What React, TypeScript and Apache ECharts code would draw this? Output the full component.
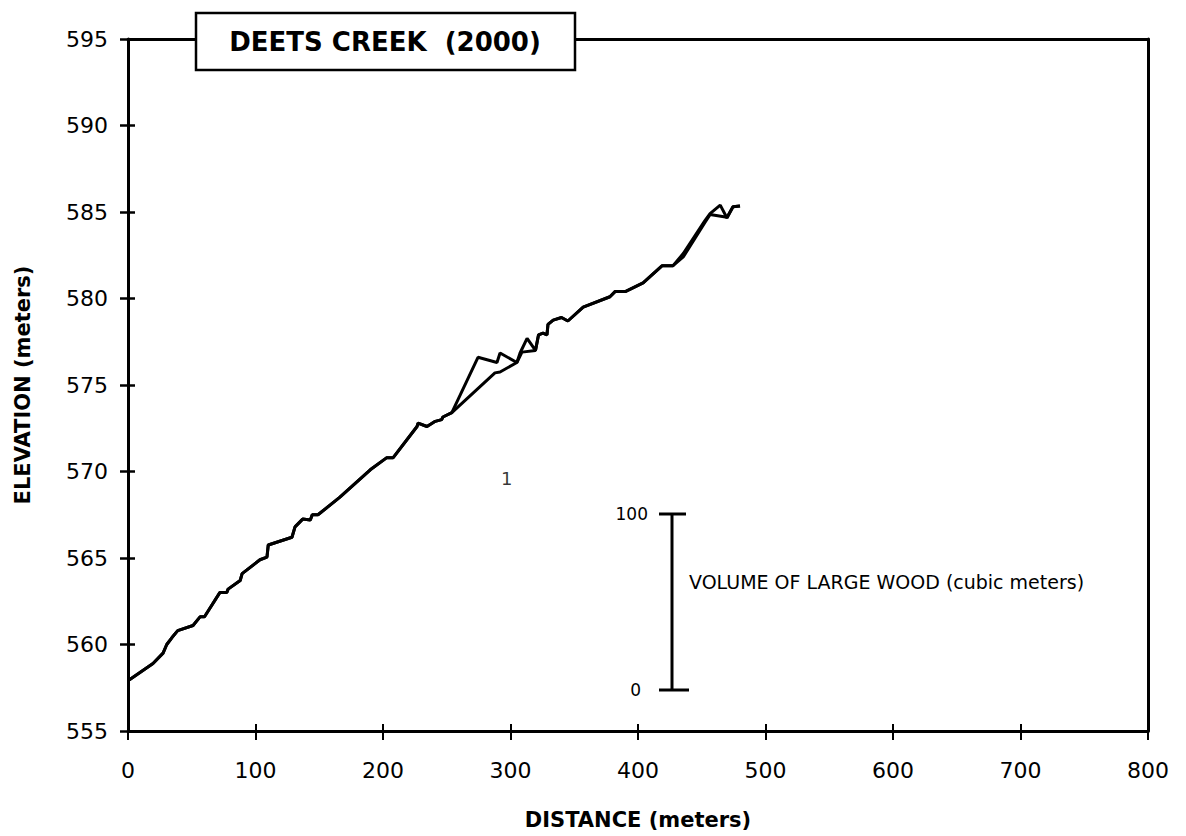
import React, { useEffect, useRef } from "react";
import * as echarts from "echarts";

// Longitudinal profile, Deets Creek (2000)
const distA = [0, 19.6, 27.5, 30.4, 34.5, 39, 51, 56.5, 60, 72, 77.5, 78.5, 88, 89.5, 103.5, 109, 110, 128.6, 131, 137, 143, 144.5, 149, 166, 190, 203, 208, 226.7, 227.5, 234.5, 241, 246, 247, 254, 274.5, 289.4, 291.8, 305, 307.5, 313, 319.6, 322, 325.5, 328.6, 329.4, 333.5, 340, 345, 357, 378, 382, 390, 404, 419, 427.5, 435.5, 452.5, 456.5, 464.5, 469.8, 474.5, 480];
const elevA = [557.9, 558.9, 559.5, 560.0, 560.4, 560.8, 561.1, 561.6, 561.6, 563.0, 563.0, 563.2, 563.7, 564.1, 564.9, 565.05, 565.75, 566.2, 566.8, 567.25, 567.2, 567.5, 567.5, 568.5, 570.1, 570.8, 570.8, 572.6, 572.8, 572.6, 572.9, 573.0, 573.15, 573.4, 576.6, 576.3, 576.85, 576.3, 576.85, 577.7, 577.0, 577.9, 578.0, 577.9, 578.5, 578.75, 578.9, 578.7, 579.5, 580.1, 580.4, 580.4, 580.9, 581.9, 581.9, 582.6, 584.5, 584.9, 585.4, 584.65, 585.3, 585.35];

const distB = [0, 19.6, 27.5, 30.4, 34.5, 39, 51, 56.5, 60, 72, 77.5, 78.5, 88, 89.5, 103.5, 109, 110, 128.6, 131, 137, 143, 144.5, 149, 166, 190, 203, 208, 226.7, 227.5, 234.5, 241, 246, 247, 254, 287.8, 291.8, 305, 309, 319.6, 322, 325.5, 328.6, 329.4, 333.5, 340, 345, 357, 378, 382, 390, 404, 419, 427.5, 435.5, 452.5, 456.5, 469.8, 474.5, 480];
const elevB = [557.9, 558.9, 559.5, 560.0, 560.4, 560.8, 561.1, 561.6, 561.6, 563.0, 563.0, 563.2, 563.7, 564.1, 564.9, 565.05, 565.75, 566.2, 566.8, 567.25, 567.2, 567.5, 567.5, 568.5, 570.1, 570.8, 570.8, 572.6, 572.8, 572.6, 572.9, 573.0, 573.15, 573.4, 575.7, 575.75, 576.3, 576.9, 577.0, 577.9, 578.0, 577.9, 578.5, 578.75, 578.9, 578.7, 579.5, 580.1, 580.4, 580.4, 580.9, 581.9, 581.9, 582.4, 584.4, 584.85, 584.7, 585.3, 585.35];

// Large wood volume labels
const woodDist = [297];
const woodElev = [569.6];
const woodLabels = ["1"];

const xTicks = { min: 0, max: 800, interval: 100 };
const yTicks = { min: 555, max: 595, interval: 5 };

const titleText = "DEETS CREEK  (2000)";
const xName = "DISTANCE (meters)";
const yName = "ELEVATION (meters)";
const legendText = "VOLUME OF LARGE WOOD (cubic meters)";
const legendTop = "100";
const legendBottom = "0";

export default function App() {
  const ref = useRef<HTMLDivElement>(null);
  useEffect(() => {
    if (!ref.current) return;
    const chart = echarts.init(ref.current, null, { renderer: "svg" });
    const font = "DejaVu Sans, Arial, sans-serif";
    const lineSt = { color: "#000", width: 3 };
    const baseX = { type: "value", min: xTicks.min, max: xTicks.max, interval: xTicks.interval, splitLine: { show: false } };
    const baseY = { type: "value", min: yTicks.min, max: yTicks.max, interval: yTicks.interval, splitLine: { show: false } };
    chart.setOption({
      animation: false,
      backgroundColor: "#fff",
      grid: { left: 128, right: 38, top: 39, bottom: 105 },
      xAxis: [
        {
          ...baseX,
          position: "bottom",
          axisLine: { onZero: false, lineStyle: lineSt },
          axisTick: { inside: false, length: 9, lineStyle: { color: "#000", width: 2 } },
          axisLabel: { color: "#000", fontSize: 22, fontFamily: font, margin: 28 },
          name: xName,
          nameLocation: "middle",
          nameGap: 78,
          nameTextStyle: { color: "#000", fontSize: 21, fontWeight: "bold", fontFamily: font },
        },
        {
          ...baseX,
          position: "bottom",
          axisLine: { show: false, onZero: false },
          axisTick: { inside: true, length: 7, lineStyle: { color: "#000", width: 2 } },
          axisLabel: { show: false },
        },
        {
          ...baseX,
          position: "top",
          axisLine: { onZero: false, lineStyle: lineSt },
          axisTick: { show: false },
          axisLabel: { show: false },
        },
      ],
      yAxis: [
        {
          ...baseY,
          position: "left",
          axisLine: { onZero: false, lineStyle: lineSt },
          axisTick: { inside: false, length: 8, lineStyle: { color: "#000", width: 2.5 } },
          axisLabel: { color: "#000", fontSize: 22, fontFamily: font, margin: 20 },
          name: yName,
          nameLocation: "middle",
          nameGap: 95,
          nameRotate: 90,
          nameTextStyle: { color: "#000", fontSize: 21, fontWeight: "bold", fontFamily: font },
        },
        {
          ...baseY,
          position: "left",
          axisLine: { show: false, onZero: false },
          axisTick: { inside: true, length: 7, lineStyle: { color: "#000", width: 2.5 } },
          axisLabel: { show: false },
        },
        {
          ...baseY,
          position: "right",
          axisLine: { show: true, onZero: false, lineStyle: lineSt },
          axisTick: { show: false },
          axisLabel: { show: false },
        },
      ],
      series: [
        {
          type: "line",
          xAxisIndex: 0,
          yAxisIndex: 0,
          data: distB.map((d, i) => [d, elevB[i]]),
          showSymbol: false,
          symbol: "none",
          lineStyle: { color: "#000", width: 3 },
        },
        {
          type: "line",
          xAxisIndex: 0,
          yAxisIndex: 0,
          data: distA.map((d, i) => [d, elevA[i]]),
          showSymbol: false,
          symbol: "none",
          lineStyle: { color: "#000", width: 3 },
        },
        {
          type: "scatter",
          xAxisIndex: 0,
          yAxisIndex: 0,
          symbolSize: 0,
          itemStyle: { color: "#000" },
          data: woodDist.map((d, i) => ({ value: [d, woodElev[i]], label: { formatter: woodLabels[i] } })),
          label: { show: true, position: "inside", color: "#000", fontSize: 18, fontFamily: font },
        },
      ],
      graphic: [
        {
          type: "rect",
          shape: { x: 196, y: 13, width: 379, height: 57 },
          style: { fill: "#fff", stroke: "#000", lineWidth: 2.5 },
          z: 100,
        },
        {
          type: "text",
          x: 385,
          y: 42,
          style: { text: titleText, fill: "#000", font: `bold 26px ${font}`, align: "center", verticalAlign: "middle" },
          z: 101,
        },
        { type: "line", shape: { x1: 672, y1: 514, x2: 672, y2: 690 }, style: { stroke: "#000", lineWidth: 3 } },
        { type: "line", shape: { x1: 659, y1: 514, x2: 686, y2: 514 }, style: { stroke: "#000", lineWidth: 3 } },
        { type: "line", shape: { x1: 659, y1: 690, x2: 689, y2: 690 }, style: { stroke: "#000", lineWidth: 3 } },
        { type: "text", x: 648, y: 514, style: { text: legendTop, fill: "#000", font: `17px ${font}`, align: "right", verticalAlign: "middle" } },
        { type: "text", x: 641, y: 690, style: { text: legendBottom, fill: "#000", font: `17px ${font}`, align: "right", verticalAlign: "middle" } },
        { type: "text", x: 689, y: 582, style: { text: legendText, fill: "#000", font: `19px ${font}`, align: "left", verticalAlign: "middle" } },
      ],
    });
    return () => chart.dispose();
  }, []);
  return <div ref={ref} style={{ position: "absolute", left: 0, top: 0, width: 1186, height: 836 }} />;
}
